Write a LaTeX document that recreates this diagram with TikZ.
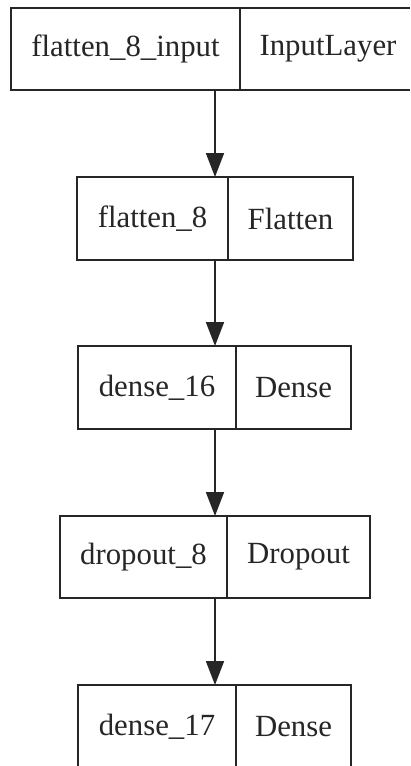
\documentclass[tikz,border=0pt]{standalone}
\usepackage{fontspec}
\setmainfont{Liberation Serif}
\usetikzlibrary{arrows.meta}
\begin{document}
\begin{tikzpicture}[x=1pt,y=1pt,
  cell/.style={draw=black!85, line width=1.8pt, inner sep=0pt, outer sep=0pt,
    font=\fontsize{30.8}{36}\selectfont, text=black!85},
  arr/.style={draw=black!85, line width=1.8pt, -{Triangle[length=24pt,width=18pt]}}]
\useasboundingbox (0,0) rectangle (410,-766);
\fill[white] (0,0) rectangle (410,-766);
% layer boxes
\node[cell, minimum width=229, minimum height=82] (b1l) at (125.5,-49) {flatten\_8\_input};
\node[cell, minimum width=176, minimum height=82] (b1r) at (328,-49) {InputLayer};
\node[cell, minimum width=151, minimum height=83] (b2l) at (152.5,-218.5) {flatten\_8};
\node[cell, minimum width=125, minimum height=83] (b2r) at (290.5,-218.5) {Flatten};
\node[cell, minimum width=158, minimum height=83] (b3l) at (157,-387.5) {dense\_16};
\node[cell, minimum width=115, minimum height=83] (b3r) at (293.5,-387.5) {Dense};
\node[cell, minimum width=167, minimum height=82] (b4l) at (143.5,-557) {dropout\_8};
\node[cell, minimum width=143, minimum height=82] (b4r) at (298.5,-557) {Dropout};
\node[cell, minimum width=158, minimum height=84] (b5l) at (157,-727) {dense\_17};
\node[cell, minimum width=115, minimum height=84] (b5r) at (293.5,-727) {Dense};
% connectors
\coordinate (ax) at (215,0);
\draw[arr] (b1l.south -| ax) -- (b2l.north -| ax);
\draw[arr] (b2l.south -| ax) -- (b3l.north -| ax);
\draw[arr] (b3l.south -| ax) -- (b4l.north -| ax);
\draw[arr] (b4l.south -| ax) -- (b5l.north -| ax);
% cover the part of the first box that lies beyond the right margin
\fill[white] (410.2,10) rectangle (440,-100);
\end{tikzpicture}
\end{document}
